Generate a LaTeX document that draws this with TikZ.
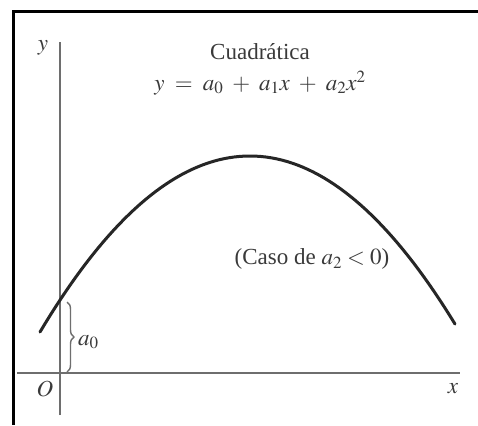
\documentclass[tikz,border=0pt]{standalone}
\usepackage{mathptmx}
\usepackage{fontspec}
\setmainfont{Liberation Serif}
\usetikzlibrary{decorations.pathreplacing}
\definecolor{axisgray}{HTML}{6E6E6E}
\definecolor{textgray}{HTML}{3A3A3A}
\tikzset{
  axisline/.style={draw=axisgray, line width=2.6pt},
  curveline/.style={draw=black!85, line width=3pt},
  lbl/.style={text=textgray, font=\fontsize{23}{26}\selectfont, inner sep=0pt},
  frameline/.style={draw=black, line width=3pt}
}
\begin{document}
\begin{tikzpicture}[x=1pt,y=-1pt]
\useasboundingbox (0,0) rectangle (478,425);
\fill[white] (0,0) rectangle (478,425);
% frame (top and left only)
\coordinate (fTR) at (478,11.5);
\coordinate (fTL) at (13.5,11.5);
\coordinate (fBL) at (13.5,425);
\draw[frameline] (fTR) -- (fTL) -- (fBL);
% axes
\coordinate (yTop) at (60,42);
\coordinate (yBot) at (60,415);
\coordinate (xL) at (17,373);
\coordinate (xR) at (460,373);
\draw[axisline] (yBot) -- (yTop);
\draw[axisline] (xL) -- (xR);
% curve
\draw[curveline, line cap=round] plot[domain=40:455, samples=80] (\x, {156+(0.0632*(\x-249.9))^2});
% brace
\coordinate (bTop) at (67,302);
\coordinate (bBot) at (67,372);
\draw[draw=axisgray, line width=1.4pt, decoration={brace, amplitude=7pt}, decorate] (bTop) -- (bBot);
\node[lbl, anchor=west] (a0) at (78,342) {$a_0$};
% labels
\node[lbl] (ylab) at (43,48) {$y$};
\node[lbl] (olab) at (45,389) {$O$};
\node[lbl] (xlab) at (453,389) {$x$};
\node[lbl] (title) at (260,52) {Cuadrática};
\node[lbl] (eq) at (260,83) {$\medmuskip=7mu plus 2mu\thickmuskip=8mu plus 2mu y = a_0 + a_1x + a_2x^2$};
\node[lbl] (caso) at (312,259) {(Caso de $a_2 < 0$)};
\end{tikzpicture}
\end{document}
